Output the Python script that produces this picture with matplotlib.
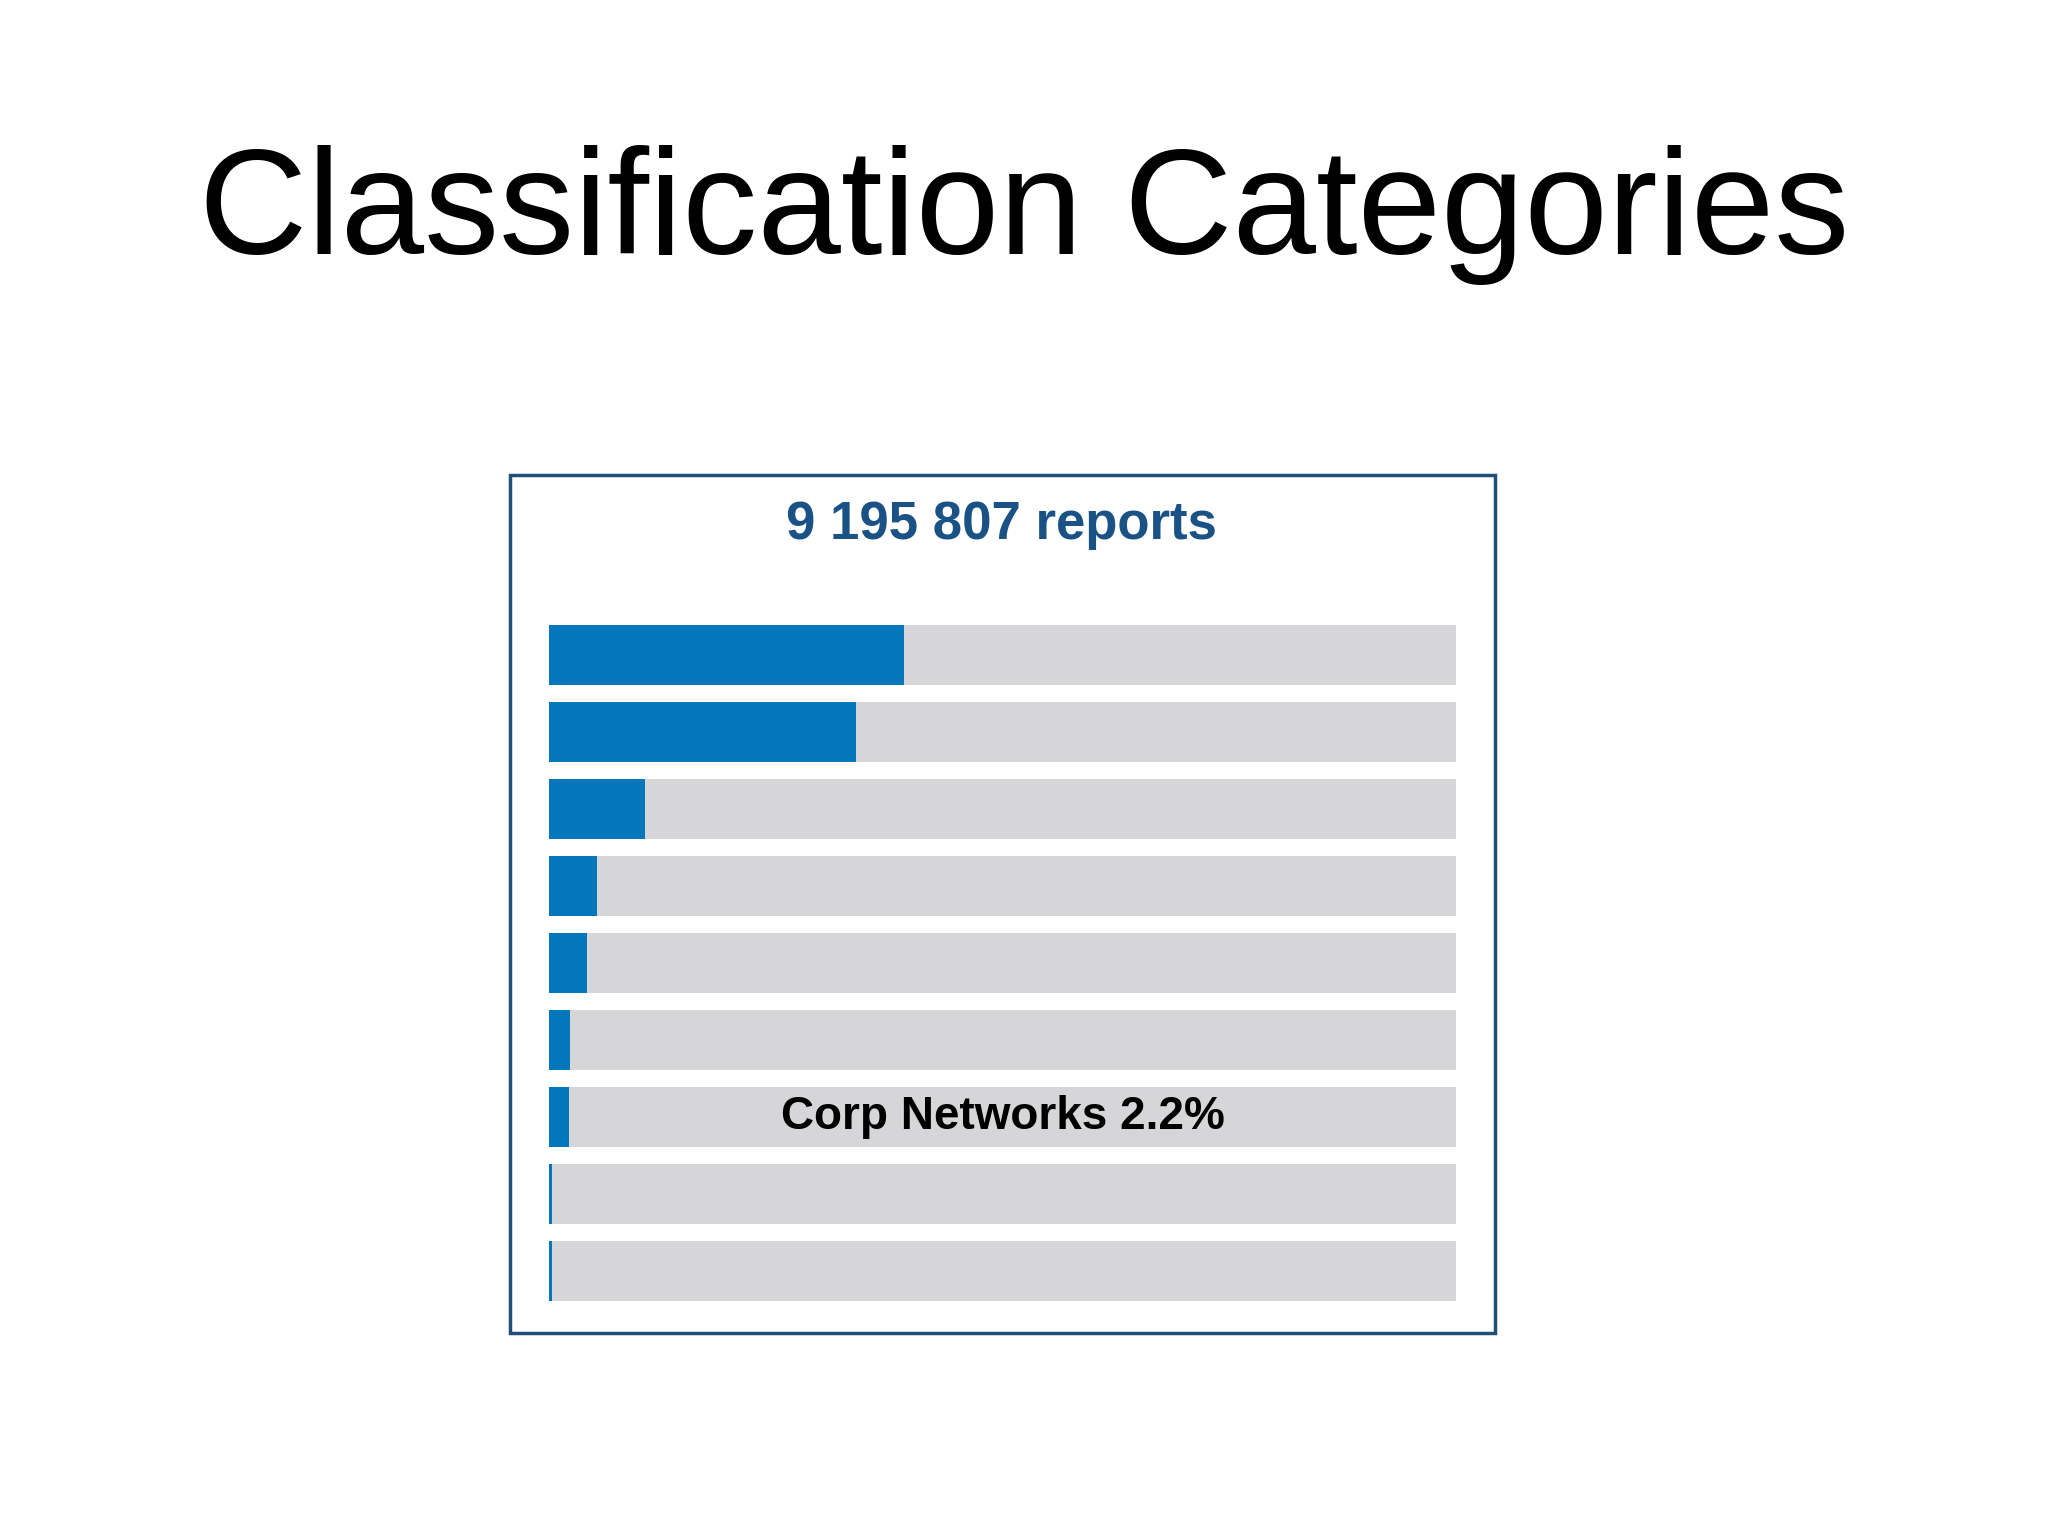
import matplotlib
matplotlib.use("Agg")
import matplotlib.pyplot as plt
import matplotlib.patches as mpatches

# share of reports per category (%), top to bottom
shares = [39.1, 33.8, 10.6, 5.3, 4.2, 2.3, 2.2, 0.3, 0.3]
label_row = 6
label_text = "Corp Networks 2.2%"
total_text = "9 195 807 reports"
title = "Classification Categories"

BLUE = "#0477BB"
GRAY = "#D6D5D8"
NAVY = "#1F4E79"

plt.rcParams["font.family"] = ["Liberation Sans", "DejaVu Sans"]
fig = plt.figure(figsize=(20.48, 15.36), dpi=100)

fig.text(0.5, 0.86, title, ha="center", va="center", fontsize=108)

# outer frame
fig.patches.append(mpatches.Rectangle((0.249, 0.132), 0.481, 0.559, transform=fig.transFigure,
                                      fill=False, edgecolor=NAVY, linewidth=2.5))
fig.text(0.489, 0.658, total_text, ha="center", va="center", fontsize=38,
         fontweight="bold", color="#1a5285")

ax = fig.add_axes([0.268, 0.142, 0.443, 0.462])
n = len(shares)
ys = list(range(n))
ax.barh(ys, [100] * n, height=0.78, color=GRAY)
ax.barh(ys, shares, height=0.78, color=BLUE)
ax.text(50, label_row, label_text, ha="center", va="center", fontsize=33, fontweight="bold")
ax.set_xlim(0, 100)
ax.set_ylim(n - 0.5 + 0.11, -0.5 - 0.11)
ax.axis("off")

fig.savefig("out.png", dpi=100)
